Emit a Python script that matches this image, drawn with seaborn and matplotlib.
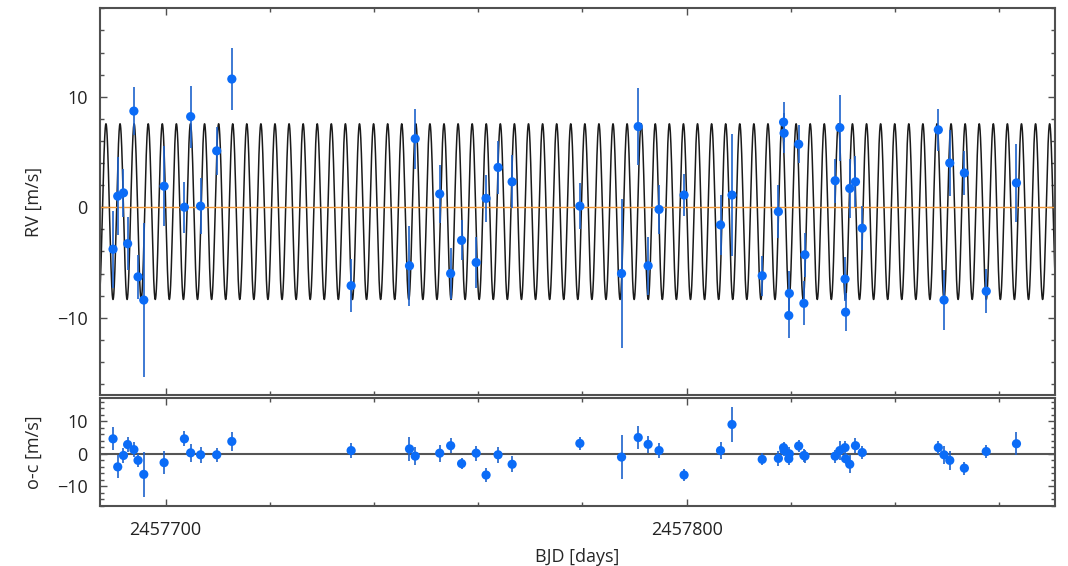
import numpy as np
import pandas as pd
import matplotlib
matplotlib.use("Agg")
import matplotlib.pyplot as plt
import seaborn as sns
from matplotlib.ticker import MultipleLocator, FormatStrFormatter

sns.set_style("ticks")
plt.rcParams["font.family"] = ["Open Sans", "DejaVu Sans"]

# ---- data ----
bjd = [2457689.9, 2457690.8, 2457691.9, 2457692.7, 2457693.9, 2457694.7, 2457695.8,
       2457699.7, 2457703.6, 2457704.8, 2457706.7, 2457709.8, 2457712.7, 2457735.6,
       2457746.8, 2457747.9, 2457752.6, 2457754.7, 2457756.8, 2457759.6, 2457761.5,
       2457763.8, 2457766.5, 2457779.5, 2457787.5, 2457790.7, 2457792.6, 2457794.7,
       2457799.5, 2457806.5, 2457808.7, 2457814.5, 2457817.6, 2457818.6, 2457818.7,
       2457819.7, 2457819.6, 2457821.5, 2457822.7, 2457822.5, 2457828.5, 2457829.4,
       2457830.4, 2457830.5, 2457831.3, 2457832.4, 2457833.7, 2457848.3, 2457849.4,
       2457850.5, 2457853.3, 2457857.5, 2457863.3]
rv = [-3.8, 1.0, 1.3, -3.3, 8.7, -6.3, -8.4,
      1.9, 0.0, 8.2, 0.1, 5.1, 11.6, -7.1,
      -5.3, 6.2, 1.2, -6.0, -3.0, -5.0, 0.8,
      3.6, 2.3, 0.1, -6.0, 7.3, -5.3, -0.2,
      1.1, -1.6, 1.1, -6.2, -0.4, 7.7, 6.7,
      -7.8, -9.8, 5.7, -4.3, -8.7, 2.4, 7.2,
      -6.5, -9.5, 1.7, 2.3, -1.9, 7.0, -8.4,
      4.0, 3.1, -7.6, 2.2]
rv_err = [3.5, 3.5, 2.2, 2.4, 2.2, 2.0, 7.0,
          3.6, 2.3, 2.8, 2.5, 2.2, 2.8, 2.4,
          3.6, 2.7, 2.6, 2.3, 1.8, 2.3, 2.1,
          2.4, 2.4, 2.1, 6.7, 3.5, 2.6, 2.2,
          1.9, 2.7, 5.5, 1.8, 2.4, 1.8, 1.8,
          2.0, 2.0, 1.7, 2.0, 2.0, 2.0, 3.0,
          2.0, 1.7, 2.7, 2.3, 2.0, 1.9, 2.7,
          3.0, 2.0, 2.0, 3.5]
o_c = [4.6, -4.0, -0.5, 2.85, 1.3, -2.0, -6.3,
       -2.7, 4.6, 0.3, -0.3, -0.3, 3.8, 1.0,
       1.5, -0.7, 0.2, 2.5, -3.0, 0.2, -6.5,
       -0.3, -3.2, 3.2, -1.0, 5.0, 2.9, 1.0,
       -6.5, 1.0, 9.0, -1.7, -1.4, 1.9, 1.0,
       0.0, -1.5, 2.4, -0.7, -0.5, -0.7, 1.0,
       1.9, -1.5, -3.2, 2.5, 0.4, 1.9, -0.3,
       -2.0, -4.4, 0.7, 3.1]

# model parameters (sinusoidal fit shown in the reference)
K_amp = 7.95
period = 2.7034
t_peak = 2457688.54
rv_offset = -0.4

x_min, x_max = 2457687.39, 2457870.69

df = pd.DataFrame({"bjd": bjd, "rv": rv, "err": rv_err, "oc": o_c})
t = np.linspace(x_min, x_max, 30000)
model = pd.DataFrame({"t": t,
                      "rv": rv_offset + K_amp * np.cos(2 * np.pi * (t - t_peak) / period)})

point_color = "#0b6cf7"
bar_color = "#1d62cc"
spine_color = "#505050"

fig = plt.figure(figsize=(10.68, 5.66), dpi=100)
ax1 = fig.add_axes([0.0936, 0.302, 0.8942, 0.6833])
ax2 = fig.add_axes([0.0936, 0.106, 0.8942, 0.1913])

# upper panel
sns.lineplot(data=model, x="t", y="rv", ax=ax1, color="#1a1a1a", lw=1.1,
             estimator=None, sort=False, zorder=2)
ax1.axhline(0, color="#f29a3a", lw=1.0, zorder=2.5)
ax1.errorbar(df["bjd"], df["rv"], yerr=df["err"], fmt="none", ecolor=bar_color,
             elinewidth=1.2, capsize=0, zorder=3)
sns.scatterplot(data=df, x="bjd", y="rv", ax=ax1, color=point_color, s=44,
                edgecolor="none", zorder=4)
ax1.set_ylim(-17, 18)
ax1.set_ylabel("RV [m/s]", fontsize=13, labelpad=10)
ax1.set_xlabel("")

# lower panel
ax2.axhline(0, color="#555555", lw=1.5, zorder=1)
ax2.errorbar(df["bjd"], df["oc"], yerr=df["err"], fmt="none", ecolor=bar_color,
             elinewidth=1.2, capsize=0, zorder=3)
sns.scatterplot(data=df, x="bjd", y="oc", ax=ax2, color=point_color, s=44,
                edgecolor="none", zorder=4)
ax2.set_ylim(-16, 17.2)
ax2.set_ylabel("o-c [m/s]", fontsize=13, labelpad=10)
ax2.set_xlabel("BJD [days]", fontsize=13, labelpad=6)

for ax in (ax1, ax2):
    ax.set_xlim(x_min, x_max)
    ax.xaxis.set_major_locator(MultipleLocator(100))
    ax.xaxis.set_minor_locator(MultipleLocator(20))
    ax.xaxis.set_major_formatter(FormatStrFormatter("%d"))
    ax.yaxis.set_major_locator(MultipleLocator(10))
    ax.yaxis.set_minor_locator(MultipleLocator(2))
    ax.tick_params(which="both", direction="in", top=True, right=True,
                   color=spine_color, width=1.0, labelsize=13, labelcolor="#222222")
    ax.tick_params(which="major", length=5, pad=9)
    ax.tick_params(which="minor", length=3)
    for sp in ax.spines.values():
        sp.set_color(spine_color)
        sp.set_linewidth(1.5)
    ax.set_facecolor("white")

ax1.tick_params(labelbottom=False)
ax2.tick_params(axis="x", pad=11)

fig.savefig("out.png", dpi=100, facecolor="white")
